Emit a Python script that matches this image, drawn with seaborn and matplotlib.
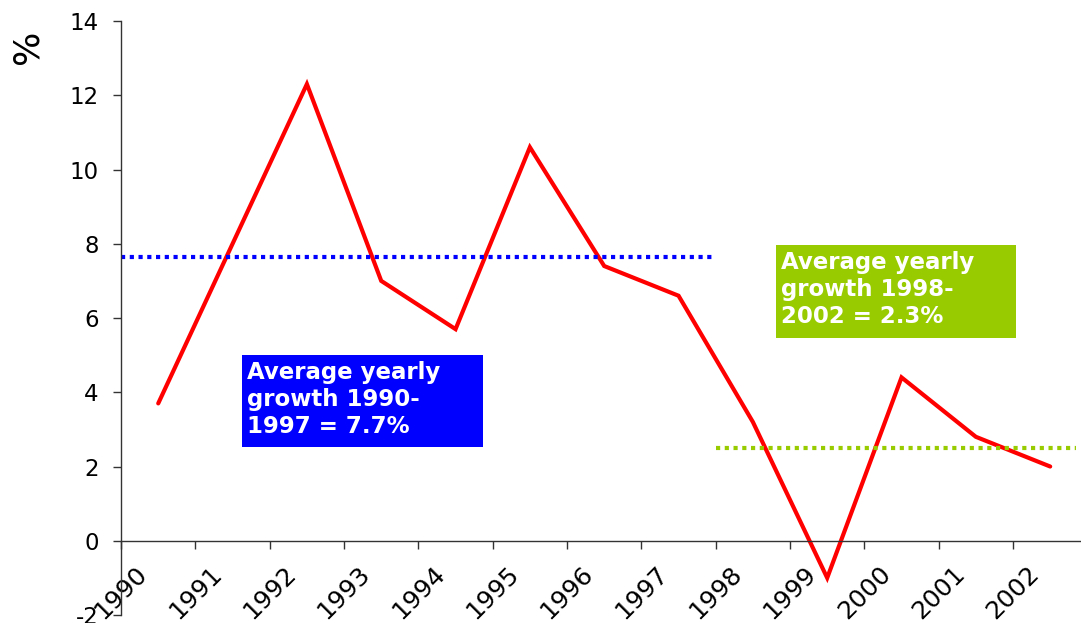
import numpy as np
import pandas as pd
import matplotlib
matplotlib.use("Agg")
import matplotlib.pyplot as plt
from matplotlib.patches import Rectangle
import seaborn as sns

years = ["1990", "1991", "1992", "1993", "1994", "1995", "1996",
         "1997", "1998", "1999", "2000", "2001", "2002"]
growth = [3.7, 8.0, 12.3, 7.0, 5.7, 10.6, 7.4, 6.6, 3.2, -1.0, 4.4, 2.8, 2.0]
avg_1990_1997 = 7.65
avg_1998_2002 = 2.5
label_blue = "Average yearly\ngrowth 1990-\n1997 = 7.7%"
label_green = "Average yearly\ngrowth 1998-\n2002 = 2.3%"

sns.set_style("white")
plt.rcParams["font.family"] = ["DejaVu Sans"]
plt.rcParams["axes.unicode_minus"] = False

fig = plt.figure(figsize=(10.81, 6.23), dpi=100)
ax = fig.add_axes([0.112, 0.0128, 0.887, 0.9535])

df = pd.DataFrame({"pos": np.arange(len(years)) + 0.5, "growth": growth})
sns.lineplot(data=df, x="pos", y="growth", ax=ax, color="#ff0000", lw=3,
             solid_joinstyle="miter")

# average lines
ax.plot([0, 8], [avg_1990_1997] * 2, color="#0000ff", lw=3,
        linestyle=(0, (1, 1.1)), dash_capstyle="butt")
ax.plot([8, 12.85], [avg_1998_2002] * 2, color="#99cc00", lw=3,
        linestyle=(0, (1, 1.1)), dash_capstyle="butt")

# annotation boxes
ax.add_patch(Rectangle((1.626, 2.53), 3.24, 2.48, facecolor="#0000ff",
                       edgecolor="none", zorder=4))
ax.text(1.70, 4.83, label_blue, color="white", fontsize=16.5, fontweight="bold",
        va="top", ha="left", linespacing=1.22, zorder=5)
ax.add_patch(Rectangle((8.817, 5.47), 3.22, 2.50, facecolor="#99cc00",
                       edgecolor="none", zorder=4))
ax.text(8.88, 7.80, label_green, color="white", fontsize=16.5, fontweight="bold",
        va="top", ha="left", linespacing=1.22, zorder=5)

ax.set_xlim(0, 12.9)
ax.set_ylim(-2, 14)
ax.set_yticks(np.arange(-2, 15, 2))
ax.set_xticks(np.arange(len(years)))
ax.set_xticklabels(years)

for s in ["top", "right"]:
    ax.spines[s].set_visible(False)
ax.spines["bottom"].set_position(("data", 0))
for s in ["left", "bottom"]:
    ax.spines[s].set_color("#333333")
    ax.spines[s].set_linewidth(1)

ax.tick_params(axis="y", direction="out", length=6, width=1, color="#333333",
               labelsize=16.5, pad=10, left=True, labelcolor="black")
ax.tick_params(axis="x", direction="out", length=6, width=1, color="#333333",
               labelsize=18, pad=9, bottom=True, labelrotation=45,
               labelcolor="black")
for lbl in ax.get_xticklabels():
    lbl.set_ha("center")
    lbl.set_va("top")
ax.set_xlabel("")
ax.set_ylabel("")

fig.text(0.025, 0.925, "%", rotation=90, fontsize=26, ha="center", va="center",
         color="black")

fig.savefig("out.png", dpi=100)
